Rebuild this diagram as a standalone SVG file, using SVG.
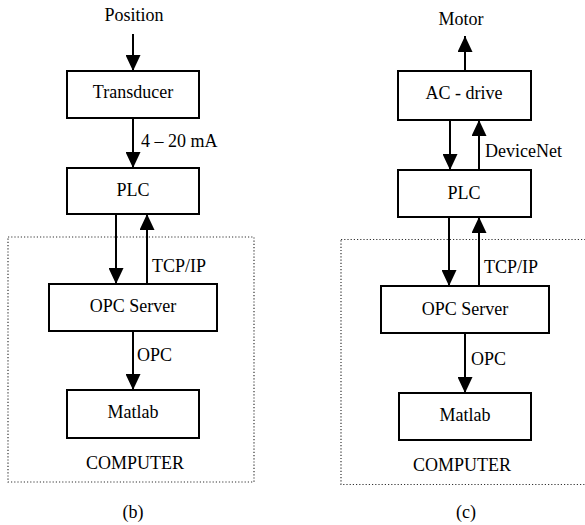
<svg xmlns="http://www.w3.org/2000/svg" width="585" height="525" viewBox="0 0 585 525" font-family="'Liberation Serif', 'Times New Roman', Times, 'DejaVu Serif', serif">
<defs>
<marker id="ah" markerUnits="userSpaceOnUse" markerWidth="16" markerHeight="15" viewBox="0 0 16 15" refX="16" refY="7.5" orient="auto">
<path d="M0,0 L16,7.5 L0,15 z" fill="#000"/>
</marker>
<style>
.box{fill:#fff;stroke:#000;stroke-width:2}
text{font-family:'Liberation Serif','Times New Roman',Times,'DejaVu Serif',serif;font-size:18px;fill:#000}
.m{text-anchor:middle}
.c{stroke:#000;stroke-width:2;fill:none;marker-end:url(#ah)}
.dot{fill:none;stroke:#333;stroke-width:1.2;stroke-dasharray:1.2 2}
</style>
</defs>
<rect width="585" height="525" fill="#fff"/>
<g id="computer-b"><rect class="dot" x="8" y="237" width="246" height="245"/><text class="m" x="135" y="469">COMPUTER</text></g>
<g id="computer-c"><rect class="dot" x="341" y="239.5" width="260" height="245"/><text class="m" x="462" y="471">COMPUTER</text></g>
<g id="connectors">
<path class="c" d="M133,34 V71"/>
<path class="c" d="M133,118 V168"/>
<path class="c" d="M116,214 V284"/>
<path class="c" d="M147,284 V214"/>
<path class="c" d="M133,331 V390"/>
<path class="c" d="M465,71 V36"/>
<path class="c" d="M450,120 V170"/>
<path class="c" d="M479,170 V120"/>
<path class="c" d="M449,217 V286"/>
<path class="c" d="M479,286 V217"/>
<path class="c" d="M465,333 V393"/>
</g>
<g id="labels">
<text class="m" x="134" y="21">Position</text>
<text x="141" y="147">4 – 20 mA</text>
<text x="152" y="272">TCP/IP</text>
<text x="137" y="361">OPC</text>
<text class="m" x="133" y="518">(b)</text>
<text class="m" x="461" y="25">Motor</text>
<text x="485" y="157">DeviceNet</text>
<text x="484" y="273">TCP/IP</text>
<text x="471" y="365">OPC</text>
<text class="m" x="466" y="518">(c)</text>
</g>
<g id="transducer"><rect class="box" x="67" y="71" width="132" height="47"/><text class="m" x="133" y="98">Transducer</text></g>
<g id="plc-b"><rect class="box" x="67" y="168" width="132" height="46"/><text class="m" x="133" y="196">PLC</text></g>
<g id="opc-b"><rect class="box" x="49" y="284" width="168" height="47"/><text class="m" x="133" y="312">OPC Server</text></g>
<g id="matlab-b"><rect class="box" x="67" y="390" width="132" height="48"/><text class="m" x="133" y="418">Matlab</text></g>
<g id="acdrive"><rect class="box" x="398" y="71" width="133" height="49"/><text class="m" x="464" y="99">AC - drive</text></g>
<g id="plc-c"><rect class="box" x="398" y="170" width="133" height="47"/><text class="m" x="464" y="199">PLC</text></g>
<g id="opc-c"><rect class="box" x="381" y="286" width="168" height="47"/><text class="m" x="465" y="315">OPC Server</text></g>
<g id="matlab-c"><rect class="box" x="399" y="393" width="132" height="47"/><text class="m" x="465" y="421">Matlab</text></g>
</svg>
